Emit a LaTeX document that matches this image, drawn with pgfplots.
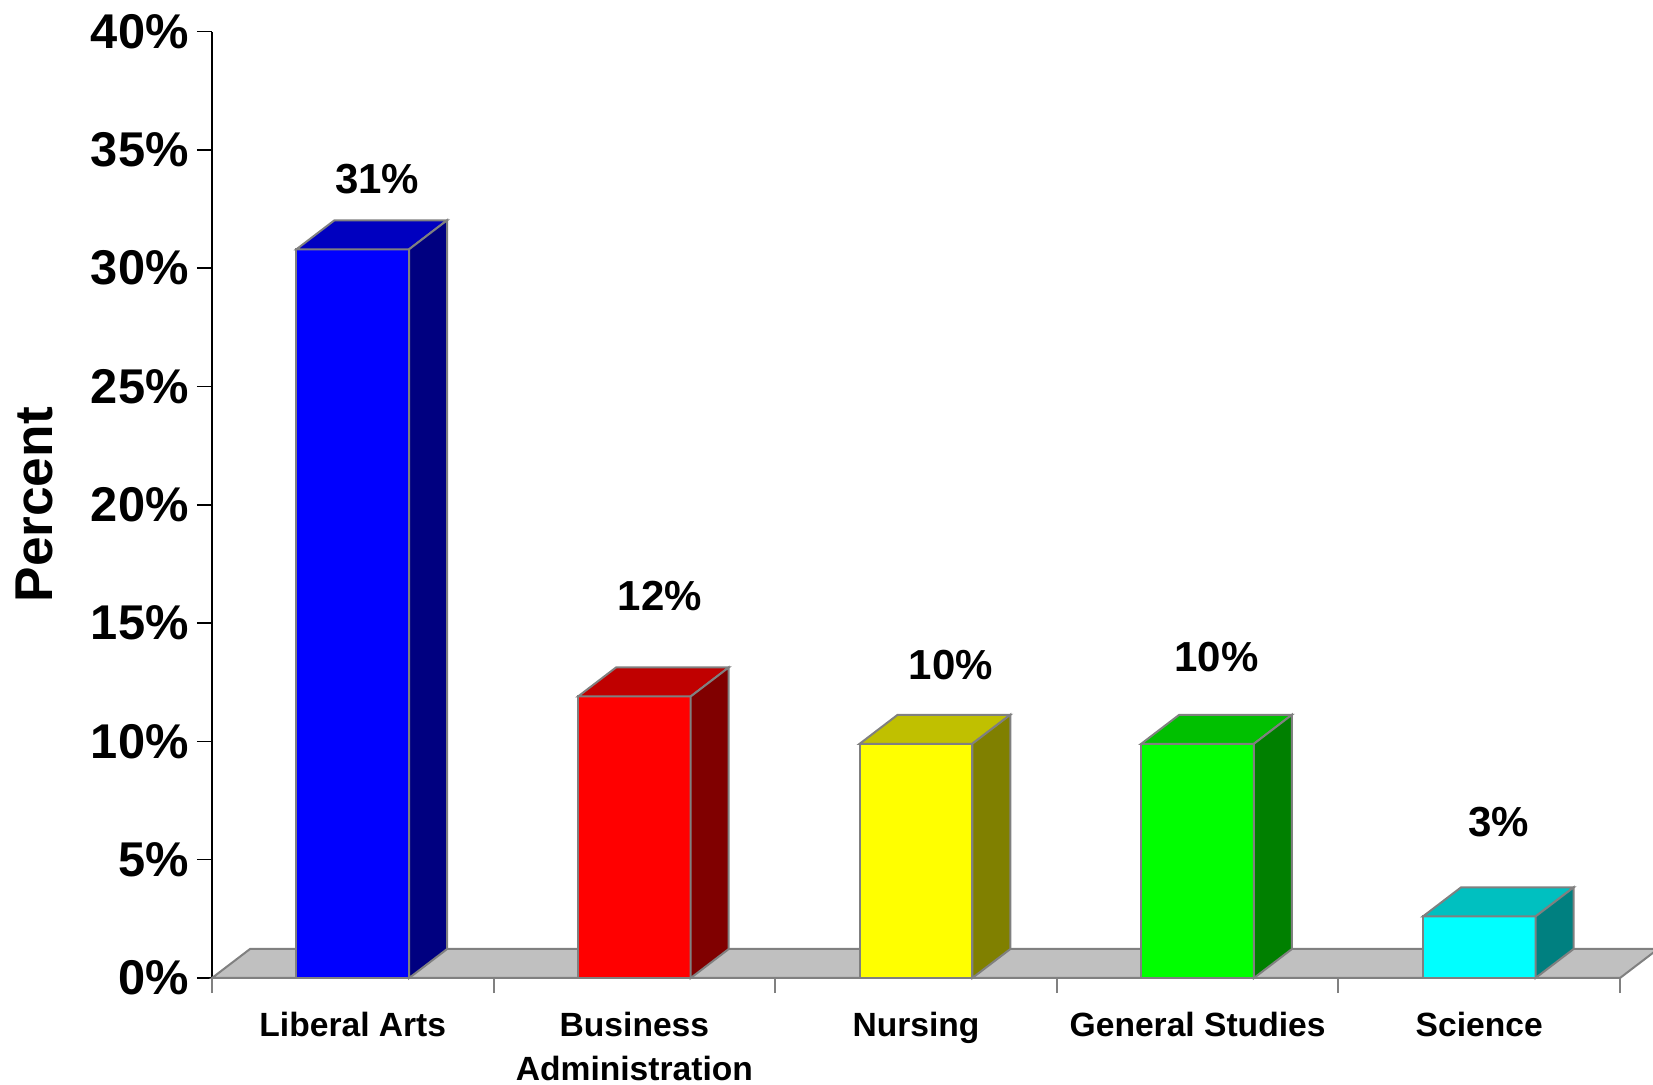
\documentclass[border=0pt]{standalone}
\usepackage{fontspec}
\setmainfont{Liberation Sans}
\usepackage{pgfplots}
\pgfplotsset{compat=1.18}
\definecolor{edgegray}{RGB}{128,128,128}
\definecolor{floorgray}{RGB}{192,192,192}
\definecolor{bF}{RGB}{0,0,255}\definecolor{bT}{RGB}{0,0,192}\definecolor{bS}{RGB}{0,0,128}
\definecolor{rF}{RGB}{255,0,0}\definecolor{rT}{RGB}{192,0,0}\definecolor{rS}{RGB}{128,0,0}
\definecolor{yF}{RGB}{255,255,0}\definecolor{yT}{RGB}{192,192,0}\definecolor{yS}{RGB}{128,128,0}
\definecolor{gF}{RGB}{0,255,0}\definecolor{gT}{RGB}{0,192,0}\definecolor{gS}{RGB}{0,128,0}
\definecolor{cF}{RGB}{0,255,255}\definecolor{cT}{RGB}{0,192,192}\definecolor{cS}{RGB}{0,128,128}
\begin{document}
\begin{tikzpicture}
\begin{axis}[
  at={(0,0)}, anchor=south west,
  scale only axis, width=704pt, height=473.2pt,
  xmin=-0.5, xmax=4.5, ymin=0, ymax=40,
  clip=false,
  axis x line*=bottom, axis y line*=left,
  x axis line style={edgegray, line width=1pt},
  y axis line style={black, line width=0.8pt},
  xtick={-0.5,0.5,1.5,2.5,3.5,4.5},
  xticklabels={},
  x tick style={edgegray, line width=1pt},
  extra x ticks={0,1,2,3,4},
  extra x tick labels={Liberal Arts, Business\\Administration, Nursing, General Studies, Science},
  extra x tick style={major tick length=0pt, tick style={draw=none}},
  xticklabel style={font=\fontsize{16.8}{22}\selectfont\bfseries, align=center, anchor=north, inner sep=0pt, yshift=-17pt},
  ytick={0,5,...,40},
  yticklabels={0\%,5\%,10\%,15\%,20\%,25\%,30\%,35\%,40\%},
  y tick style={black, line width=0.8pt},
  tick align=outside,
  major tick length=7.5pt,
  yticklabel style={font=\fontsize{24.4}{28}\selectfont\bfseries, anchor=east, inner sep=0pt, xshift=-4pt},
  ylabel={Percent},
  ylabel style={font=\fontsize{26.6}{30}\selectfont\bfseries, at={(axis description cs:-0.1264,0.5)}, anchor=center},
  every axis plot/.append style={draw=edgegray, line width=1pt, line join=miter},
]
% floor
\addplot[fill=floorgray] coordinates {(-0.5,0) (4.5,0) (4.635,1.226) (-0.365,1.226)} --cycle;
% Liberal Arts 30.8
\addplot[fill=bF] coordinates {(-0.2,0) (0.2,0) (0.2,30.8) (-0.2,30.8)} --cycle;
\addplot[fill=bT] coordinates {(-0.2,30.8) (0.2,30.8) (0.335,32.026) (-0.065,32.026)} --cycle;
\addplot[fill=bS] coordinates {(0.2,0) (0.335,1.226) (0.335,32.026) (0.2,30.8)} --cycle;
% Business Administration 11.9
\addplot[fill=rF] coordinates {(0.8,0) (1.2,0) (1.2,11.9) (0.8,11.9)} --cycle;
\addplot[fill=rT] coordinates {(0.8,11.9) (1.2,11.9) (1.335,13.126) (0.935,13.126)} --cycle;
\addplot[fill=rS] coordinates {(1.2,0) (1.335,1.226) (1.335,13.126) (1.2,11.9)} --cycle;
% Nursing 9.9
\addplot[fill=yF] coordinates {(1.8,0) (2.2,0) (2.2,9.9) (1.8,9.9)} --cycle;
\addplot[fill=yT] coordinates {(1.8,9.9) (2.2,9.9) (2.335,11.126) (1.935,11.126)} --cycle;
\addplot[fill=yS] coordinates {(2.2,0) (2.335,1.226) (2.335,11.126) (2.2,9.9)} --cycle;
% General Studies 9.9
\addplot[fill=gF] coordinates {(2.8,0) (3.2,0) (3.2,9.9) (2.8,9.9)} --cycle;
\addplot[fill=gT] coordinates {(2.8,9.9) (3.2,9.9) (3.335,11.126) (2.935,11.126)} --cycle;
\addplot[fill=gS] coordinates {(3.2,0) (3.335,1.226) (3.335,11.126) (3.2,9.9)} --cycle;
% Science 2.6
\addplot[fill=cF] coordinates {(3.8,0) (4.2,0) (4.2,2.6) (3.8,2.6)} --cycle;
\addplot[fill=cT] coordinates {(3.8,2.6) (4.2,2.6) (4.335,3.826) (3.935,3.826)} --cycle;
\addplot[fill=cS] coordinates {(4.2,0) (4.335,1.226) (4.335,3.826) (4.2,2.6)} --cycle;
% value labels
\begin{scope}[every node/.style={font=\fontsize{21}{24}\selectfont\bfseries}]
\node at (axis cs:0.087,33.76) {31\%};
\node at (axis cs:1.091,16.16) {12\%};
\node at (axis cs:2.124,13.22) {10\%};
\node at (axis cs:3.067,13.58) {10\%};
\node at (axis cs:4.070,6.58) {3\%};
\end{scope}
\end{axis}
\pgfresetboundingbox
\useasboundingbox (-106pt,-53.5pt) rectangle (720.5pt,489pt);
\end{tikzpicture}
\end{document}
